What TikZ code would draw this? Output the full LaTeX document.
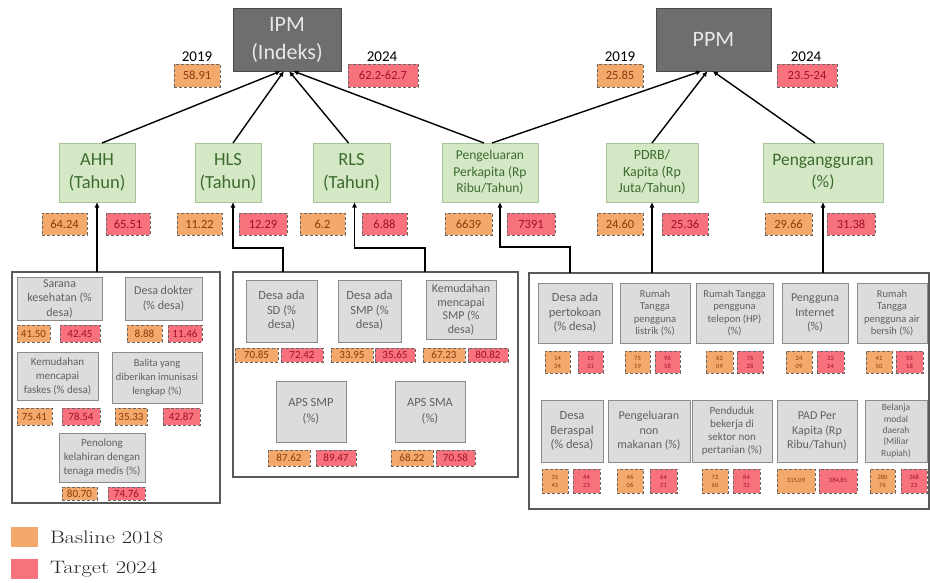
\documentclass[tikz,border=0pt]{standalone}
\usepackage{fontspec}
\usepackage{graphicx}
\usetikzlibrary{arrows.meta,shadows}
\newfontfamily\cb{Carlito}
\newcommand\fs[2]{\fontsize{#1}{#2}\selectfont}
\definecolor{dkfill}{HTML}{6E6E6E}
\definecolor{dkline}{HTML}{4A4A4A}
\definecolor{dktext}{HTML}{E8E8E8}
\definecolor{grfill}{HTML}{D5E8C6}
\definecolor{grline}{HTML}{A8C29A}
\definecolor{grtext}{HTML}{3D6B2F}
\definecolor{gyfill}{HTML}{DCDCDC}
\definecolor{gyline}{HTML}{8C8C8C}
\definecolor{orng}{HTML}{F3A86C}
\definecolor{redc}{HTML}{F7727C}
\definecolor{otext}{HTML}{8A3C0C}
\definecolor{rtext}{HTML}{A0102A}
\newcommand\boxat[7]{\node[#1,minimum width={(#5-#3)*1pt},minimum height={(#6-#4)*1pt}] (#2) at ({(#3+#5)/2},{(#4+#6)/2}) {#7};}
\tikzset{
 every node/.style={inner sep=0pt,outer sep=0pt},
 darkbox/.style={fill=dkfill,draw=dkline,line width=0.8pt,text=dktext,align=center,font=\cb\fs{22}{28}},
 gbox/.style={fill=grfill,draw=grline,line width=0.6pt,text=grtext,align=center,
   drop shadow={shadow xshift=1.3pt,shadow yshift=-1.3pt,fill=black!45,opacity=1}},
 graybox/.style={fill=gyfill,draw=gyline,line width=0.6pt,text=black!62,align=center,font=\cb\fs{12}{14.5},
   drop shadow={shadow xshift=1.3pt,shadow yshift=-1.3pt,fill=black!50,opacity=1}},
 bval/.style={fill=orng,draw=black!60,densely dashed,line width=0.6pt,text=otext,align=center,font=\cb\fs{12.5}{14}},
 tval/.style={fill=redc,draw=black!60,densely dashed,line width=0.6pt,text=rtext,align=center,font=\cb\fs{12.5}{14}},
 sval/.style={font=\cb\fs{6.5}{8}},
 mval/.style={font=\cb\fs{11}{13}},
 container/.style={draw=black!65,line width=1.2pt},
 arr/.style={draw=black,line width=1.4pt,-{Latex[length=5.5pt,width=5pt]}},
 yr/.style={font=\cb\fs{15}{18},text=black},
 lgsq/.style={minimum width=27pt,minimum height=20pt},
 lgtxt/.style={anchor=west,font=\fs{18}{20},text=black!85}
}
\begin{document}
\begin{tikzpicture}[x=1pt,y=-1pt]
\useasboundingbox (0,0) rectangle (930,582);
% containers
\boxat{container}{lbox}{12}{272}{220}{503}{}
\boxat{container}{mbox}{233}{272}{518}{477}{}
\boxat{container}{rbox}{529}{273}{929}{509}{}
% top boxes
\boxat{darkbox}{ipm}{233}{8}{341}{71}{IPM\\(Indeks)}
\boxat{darkbox}{ppm}{656}{8}{771}{71}{PPM}
\node[yr] (y1) at (197,57) {2019};
\node[yr] (y2) at (382,57) {2024};
\node[yr] (y3) at (620,57) {2019};
\node[yr] (y4) at (806,57) {2024};
\boxat{bval}{v1}{174}{64}{220}{87}{58.91}
\boxat{tval}{v2}{348}{64}{418}{87}{62.2-62.7}
\boxat{bval}{v3}{597}{64}{643}{87}{25.85}
\boxat{tval}{v4}{777}{64}{837}{87}{23.5-24}
% green boxes
\boxat{gbox,font=\cb\fs{18.5}{23}}{ahh}{59}{143}{135}{202}{AHH\\(Tahun)}
\boxat{gbox,font=\cb\fs{18.5}{23}}{hls}{195}{143}{261}{202}{HLS\\(Tahun)}
\boxat{gbox,font=\cb\fs{18.5}{23}}{rls}{313}{143}{390}{202}{RLS\\(Tahun)}
\boxat{gbox,font=\cb\fs{13.5}{16.5}}{peng}{442}{143}{538}{202}{Pengeluaran\\Perkapita (Rp\\Ribu/Tahun)}
\boxat{gbox,font=\cb\fs{14}{16.5}}{pdrb}{606}{143}{698}{202}{PDRB/\\Kapita (Rp\\Juta/Tahun)}
\boxat{gbox,font=\cb\fs{17.5}{22}}{pgg}{763}{143}{883}{202}{Pengangguran\\(\%)}
% values under green boxes
\boxat{bval}{a1}{42}{213}{87}{235}{64.24}
\boxat{tval}{a2}{106}{213}{150}{235}{65.51}
\boxat{bval}{h1}{177}{213}{222}{235}{11.22}
\boxat{tval}{h2}{239}{213}{287}{235}{12.29}
\boxat{bval}{r1}{300}{213}{345}{235}{6.2}
\boxat{tval}{r2}{362}{213}{407}{235}{6.88}
\boxat{bval}{p1}{445}{213}{492}{235}{6639}
\boxat{tval}{p2}{507}{213}{555}{235}{7391}
\boxat{bval}{d1}{597}{213}{643}{235}{24.60}
\boxat{tval}{d2}{662}{213}{708}{235}{25.36}
\boxat{bval}{g1}{765}{213}{812}{235}{29.66}
\boxat{tval}{g2}{827}{213}{875}{235}{31.38}
% left box content
\boxat{graybox}{s1}{17}{277}{102}{320}{Sarana\\kesehatan (\%\\desa)}
\boxat{graybox}{s2}{125}{277}{202}{320}{Desa dokter\\(\% desa)}
\boxat{bval,mval}{s1a}{17}{325}{50}{342}{41.50}
\boxat{tval,mval}{s1b}{60}{325}{100}{342}{42.45}
\boxat{bval,mval}{s2a}{127}{325}{162}{342}{8.88}
\boxat{tval,mval}{s2b}{168}{325}{202}{342}{11.46}
\boxat{graybox,font=\cb\fs{11}{14}}{s3}{17}{352}{98}{400}{Kemudahan\\mencapai\\faskes (\% desa)}
\boxat{graybox,font=\cb\fs{10.5}{14}}{s4}{112}{352}{202}{403}{Balita yang\\diberikan imunisasi\\lengkap (\%)}
\boxat{bval,mval}{s3a}{17}{408}{52}{425}{75.41}
\boxat{tval,mval}{s3b}{62}{408}{100}{425}{78.54}
\boxat{bval,mval}{s4a}{115}{408}{147}{425}{35.33}
\boxat{tval,mval}{s4b}{163}{408}{200}{425}{42.87}
\boxat{graybox,font=\cb\fs{11}{14}}{s5}{59}{433}{145}{482}{Penolong\\kelahiran dengan\\tenaga medis (\%)}
\boxat{bval,mval}{s5a}{62}{487}{97}{500}{80.70}
\boxat{tval,mval}{s5b}{108}{487}{145}{500}{74.76}
% middle box content
\boxat{graybox,font=\cb\fs{12.5}{14.5}}{m1}{246}{280}{317}{342}{Desa ada\\SD (\%\\desa)}
\boxat{graybox,font=\cb\fs{12.5}{14.5}}{m2}{338}{280}{401}{342}{Desa ada\\SMP (\%\\desa)}
\boxat{graybox,font=\cb\fs{12}{13.5}}{m3}{426}{280}{496}{339}{Kemudahan\\mencapai\\SMP (\%\\desa)}
\boxat{bval,mval}{m1a}{235}{348}{278}{362}{70.85}
\boxat{tval,mval}{m1b}{281}{348}{323}{362}{72.42}
\boxat{bval,mval}{m2a}{331}{348}{373}{362}{33.95}
\boxat{tval,mval}{m2b}{375}{348}{415}{362}{35.65}
\boxat{bval,mval}{m3a}{423}{348}{465}{362}{67.23}
\boxat{tval,mval}{m3b}{468}{348}{508}{362}{80.82}
\boxat{graybox,font=\cb\fs{12.5}{16}}{m4}{276}{381}{346}{442}{APS SMP\\(\%)}
\boxat{graybox,font=\cb\fs{12.5}{16}}{m5}{395}{381}{465}{442}{APS SMA\\(\%)}
\boxat{bval,mval}{m4a}{268}{450}{310}{466}{87.62}
\boxat{tval,mval}{m4b}{316}{450}{356}{466}{89.47}
\boxat{bval,mval}{m5a}{391}{450}{433}{466}{68.22}
\boxat{tval,mval}{m5b}{436}{450}{475}{466}{70.58}
% right box content, row 1
\boxat{graybox,font=\cb\fs{12.5}{14.5}}{t1}{538}{283}{612}{343}{Desa ada\\pertokoan\\(\% desa)}
\boxat{graybox,font=\cb\fs{10.5}{12.5}}{t2}{620}{283}{690}{343}{Rumah\\Tangga\\pengguna\\listrik (\%)}
\boxat{graybox,font=\cb\fs{10.5}{12.5}}{t3}{696}{283}{773}{343}{Rumah Tangga\\pengguna\\telepon (HP)\\(\%)}
\boxat{graybox,font=\cb\fs{12}{14.5}}{t4}{782}{283}{848}{343}{Pengguna\\Internet\\(\%)}
\boxat{graybox,font=\cb\fs{10.5}{12.5}}{t5}{857}{283}{927}{343}{Rumah\\Tangga\\pengguna air\\bersih (\%)}
\boxat{bval,sval}{t1a}{545}{351}{570}{373}{14\\34}
\boxat{tval,sval}{t1b}{578}{351}{603}{373}{15\\31}
\boxat{bval,sval}{t2a}{625}{351}{650}{373}{75\\19}
\boxat{tval,sval}{t2b}{655}{351}{680}{373}{96\\58}
\boxat{bval,sval}{t3a}{706}{351}{733}{373}{62\\09}
\boxat{tval,sval}{t3b}{737}{351}{763}{373}{76\\28}
\boxat{bval,sval}{t4a}{786}{351}{812}{373}{24\\09}
\boxat{tval,sval}{t4b}{817}{351}{844}{373}{32\\24}
\boxat{bval,sval}{t5a}{866}{351}{892}{373}{41\\50}
\boxat{tval,sval}{t5b}{896}{351}{923}{373}{55\\18}
% right box content, row 2
\boxat{graybox,font=\cb\fs{12.5}{14.5}}{q1}{541}{400}{603}{462}{Desa\\Beraspal\\(\% desa)}
\boxat{graybox,font=\cb\fs{12}{14.5}}{q2}{608}{400}{690}{462}{Pengeluaran\\non\\makanan (\%)}
\boxat{graybox,font=\cb\fs{11}{13}}{q3}{692}{400}{772}{462}{Penduduk\\bekerja di\\sektor non\\pertanian (\%)}
\boxat{graybox,font=\cb\fs{12}{14.5}}{q4}{777}{400}{857}{462}{PAD Per\\Kapita (Rp\\Ribu/Tahun)}
\boxat{graybox,font=\cb\fs{9.5}{11.3}}{q5}{865}{400}{927}{462}{Belanja\\modal\\daerah\\(Miliar\\Rupiah)}
\boxat{bval,sval}{q1a}{542}{469}{568}{493}{35\\41}
\boxat{tval,sval}{q1b}{573}{469}{600}{493}{44\\23}
\boxat{bval,sval}{q2a}{617}{469}{643}{493}{46\\06}
\boxat{tval,sval}{q2b}{650}{469}{677}{493}{64\\21}
\boxat{bval,sval}{q3a}{702}{469}{728}{493}{72\\60}
\boxat{tval,sval}{q3b}{733}{469}{760}{493}{84\\32}
\boxat{bval,sval}{q4a}{777}{469}{815}{493}{315,09}
\boxat{tval,sval}{q4b}{819}{469}{857}{493}{384,85}
\boxat{bval,sval}{q5a}{870}{469}{895}{493}{280\\76}
\boxat{tval,sval}{q5b}{901}{469}{927}{493}{368\\23}
% connectors to IPM and PPM
\draw[arr] ([xshift=5pt]ahh.north) -- ([xshift=-6pt]ipm.south);
\draw[arr] ([xshift=5pt]hls.north) -- ([xshift=-3pt]ipm.south);
\draw[arr] ([xshift=-3pt]rls.north) -- ([xshift=2pt]ipm.south);
\draw[arr] ([xshift=-6pt]peng.north) -- ([xshift=6pt]ipm.south);
\draw[arr] ([xshift=2pt]peng.north) -- ([xshift=-12pt]ppm.south);
\draw[arr] ([xshift=0pt]pdrb.north) -- ([xshift=-6pt]ppm.south);
\draw[arr] ([xshift=-8pt]pgg.north) -- ([xshift=-1pt]ppm.south);
% connectors from indicator groups
\coordinate (hk) at (283,248);
\coordinate (rk) at (425,248);
\coordinate (pk) at (570,247);
\draw[arr] (lbox.north -| ahh.south) -- (ahh.south);
\draw[arr] (mbox.north -| hk) -- (hk) -| ([xshift=5pt]hls.south);
\draw[arr] (mbox.north -| rk) -- (rk) -| ([xshift=3pt]rls.south);
\draw[arr] (rbox.north -| pk) -- (pk) -| ([xshift=10pt]peng.south);
\draw[arr] (rbox.north -| pdrb.south) -- (pdrb.south);
\draw[arr] (rbox.north -| pgg.south) -- (pgg.south);
% legend
\node[lgsq,fill=orng] (lg1) at (24.5,537) {};
\node[lgsq,fill=redc] (lg2) at (24.5,569) {};
\node[lgtxt] (lt1) at (50,537) {\scalebox{1.25}[1]{Basline 2018}};
\node[lgtxt] (lt2) at (50,569) {\scalebox{1.25}[1]{Target 2024}};
\end{tikzpicture}
\end{document}
